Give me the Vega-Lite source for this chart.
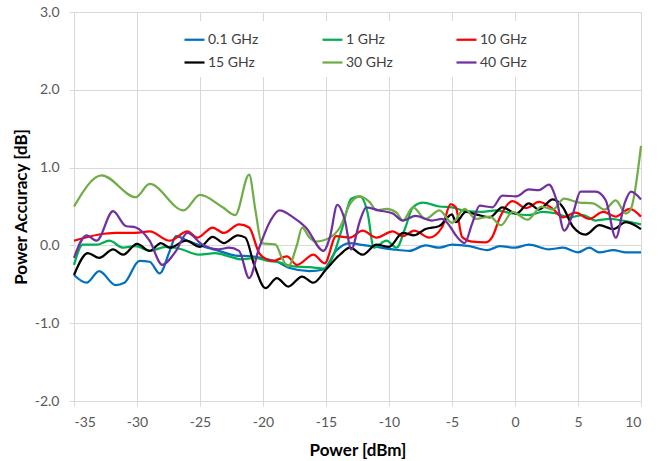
{
  "$schema": "https://vega.github.io/schema/vega-lite/v6.json",
  "width": 567,
  "height": 389,
  "autosize": {"type": "none"},
  "padding": {"left": 74, "top": 12, "right": 17, "bottom": 60},
  "background": "white",
  "config": {
    "view": {"stroke": null},
    "font": "Lato",
    "axis": {
      "gridColor": "#D9D9D9", "gridWidth": 1,
      "domainColor": "#D9D9D9", "tickColor": "#D9D9D9", "tickSize": 5,
      "labelFont": "Lato", "labelFontSize": 14, "labelColor": "#595959",
      "titleFont": "Lato", "titleFontSize": 17, "titleFontWeight": "bold", "titleColor": "#000000"
    },
    "legend": {
      "labelFont": "Lato", "labelFontSize": 14, "labelColor": "#404040"
    }
  },
  "data": {"values": [
    {"s":"0.1 GHz","x":-35,"y":-0.38},{"s":"0.1 GHz","x":-34,"y":-0.48},{"s":"0.1 GHz","x":-33,"y":-0.33},{"s":"0.1 GHz","x":-31.7,"y":-0.51},{"s":"0.1 GHz","x":-31,"y":-0.48},{"s":"0.1 GHz","x":-29.8,"y":-0.2},{"s":"0.1 GHz","x":-29,"y":-0.21},{"s":"0.1 GHz","x":-28.2,"y":-0.36},{"s":"0.1 GHz","x":-27.4,"y":-0.07},{"s":"0.1 GHz","x":-26.9,"y":0.12},{"s":"0.1 GHz","x":-26,"y":0.06},{"s":"0.1 GHz","x":-24.8,"y":-0.01},{"s":"0.1 GHz","x":-23.5,"y":-0.07},{"s":"0.1 GHz","x":-22.2,"y":-0.13},{"s":"0.1 GHz","x":-20.9,"y":-0.14},{"s":"0.1 GHz","x":-19.6,"y":-0.18},{"s":"0.1 GHz","x":-18.9,"y":-0.21},{"s":"0.1 GHz","x":-17.9,"y":-0.29},{"s":"0.1 GHz","x":-16.3,"y":-0.33},{"s":"0.1 GHz","x":-15.2,"y":-0.31},{"s":"0.1 GHz","x":-14.2,"y":-0.07},{"s":"0.1 GHz","x":-13.1,"y":0.03},{"s":"0.1 GHz","x":-12.3,"y":0.01},{"s":"0.1 GHz","x":-11,"y":-0.02},{"s":"0.1 GHz","x":-9.7,"y":-0.05},{"s":"0.1 GHz","x":-8.4,"y":-0.07},{"s":"0.1 GHz","x":-7.1,"y":0.0},{"s":"0.1 GHz","x":-6,"y":-0.03},{"s":"0.1 GHz","x":-5,"y":0.01},{"s":"0.1 GHz","x":-3.6,"y":-0.01},{"s":"0.1 GHz","x":-2.2,"y":-0.06},{"s":"0.1 GHz","x":-1.2,"y":-0.01},{"s":"0.1 GHz","x":0,"y":-0.03},{"s":"0.1 GHz","x":1.1,"y":0.01},{"s":"0.1 GHz","x":2.7,"y":-0.05},{"s":"0.1 GHz","x":3.8,"y":-0.03},{"s":"0.1 GHz","x":5,"y":-0.09},{"s":"0.1 GHz","x":5.9,"y":-0.03},{"s":"0.1 GHz","x":6.7,"y":-0.09},{"s":"0.1 GHz","x":7.8,"y":-0.06},{"s":"0.1 GHz","x":8.8,"y":-0.09},{"s":"0.1 GHz","x":10,"y":-0.09},

    {"s":"1 GHz","x":-35,"y":-0.25},{"s":"1 GHz","x":-34.3,"y":0.01},{"s":"1 GHz","x":-33.2,"y":0.01},{"s":"1 GHz","x":-32.2,"y":0.06},{"s":"1 GHz","x":-31.1,"y":-0.03},{"s":"1 GHz","x":-30.1,"y":-0.01},{"s":"1 GHz","x":-29,"y":-0.07},{"s":"1 GHz","x":-27.7,"y":-0.02},{"s":"1 GHz","x":-26.7,"y":-0.04},{"s":"1 GHz","x":-25,"y":-0.12},{"s":"1 GHz","x":-23.8,"y":-0.1},{"s":"1 GHz","x":-22.7,"y":-0.14},{"s":"1 GHz","x":-21.7,"y":-0.18},{"s":"1 GHz","x":-20.6,"y":-0.16},{"s":"1 GHz","x":-19.6,"y":-0.2},{"s":"1 GHz","x":-18.9,"y":-0.21},{"s":"1 GHz","x":-17.6,"y":-0.27},{"s":"1 GHz","x":-16.3,"y":-0.28},{"s":"1 GHz","x":-15.1,"y":-0.3},{"s":"1 GHz","x":-14.4,"y":-0.12},{"s":"1 GHz","x":-13.7,"y":0.23},{"s":"1 GHz","x":-13,"y":0.6},{"s":"1 GHz","x":-12.3,"y":0.63},{"s":"1 GHz","x":-11.7,"y":0.42},{"s":"1 GHz","x":-11.2,"y":-0.03},{"s":"1 GHz","x":-10.2,"y":0.06},{"s":"1 GHz","x":-9.4,"y":-0.03},{"s":"1 GHz","x":-8.7,"y":0.23},{"s":"1 GHz","x":-8.1,"y":0.49},{"s":"1 GHz","x":-7.3,"y":0.55},{"s":"1 GHz","x":-6,"y":0.5},{"s":"1 GHz","x":-5,"y":0.49},{"s":"1 GHz","x":-3.9,"y":0.44},{"s":"1 GHz","x":-2.6,"y":0.43},{"s":"1 GHz","x":-1.5,"y":0.45},{"s":"1 GHz","x":-0.2,"y":0.41},{"s":"1 GHz","x":1.1,"y":0.39},{"s":"1 GHz","x":2.2,"y":0.43},{"s":"1 GHz","x":3.3,"y":0.41},{"s":"1 GHz","x":4.3,"y":0.36},{"s":"1 GHz","x":5.4,"y":0.39},{"s":"1 GHz","x":6.4,"y":0.32},{"s":"1 GHz","x":7.5,"y":0.34},{"s":"1 GHz","x":8.5,"y":0.32},{"s":"1 GHz","x":10,"y":0.27},

    {"s":"10 GHz","x":-35,"y":0.06},{"s":"10 GHz","x":-33,"y":0.14},{"s":"10 GHz","x":-31.7,"y":0.16},{"s":"10 GHz","x":-30.1,"y":0.16},{"s":"10 GHz","x":-29,"y":0.18},{"s":"10 GHz","x":-27.4,"y":0.06},{"s":"10 GHz","x":-26,"y":0.18},{"s":"10 GHz","x":-25.2,"y":0.1},{"s":"10 GHz","x":-24,"y":0.23},{"s":"10 GHz","x":-23.1,"y":0.16},{"s":"10 GHz","x":-21.9,"y":0.27},{"s":"10 GHz","x":-21.1,"y":0.23},{"s":"10 GHz","x":-20.3,"y":-0.1},{"s":"10 GHz","x":-19.8,"y":-0.17},{"s":"10 GHz","x":-19.2,"y":-0.2},{"s":"10 GHz","x":-18.1,"y":-0.14},{"s":"10 GHz","x":-17.3,"y":-0.25},{"s":"10 GHz","x":-16,"y":-0.12},{"s":"10 GHz","x":-15.1,"y":-0.23},{"s":"10 GHz","x":-14.2,"y":0.12},{"s":"10 GHz","x":-13.1,"y":0.1},{"s":"10 GHz","x":-12.1,"y":0.19},{"s":"10 GHz","x":-11,"y":0.1},{"s":"10 GHz","x":-9.7,"y":0.18},{"s":"10 GHz","x":-8.9,"y":0.12},{"s":"10 GHz","x":-8,"y":0.19},{"s":"10 GHz","x":-6.8,"y":0.1},{"s":"10 GHz","x":-5.8,"y":0.23},{"s":"10 GHz","x":-5.1,"y":0.53},{"s":"10 GHz","x":-4.7,"y":0.49},{"s":"10 GHz","x":-4.2,"y":0.11},{"s":"10 GHz","x":-3.4,"y":0.05},{"s":"10 GHz","x":-2.3,"y":0.04},{"s":"10 GHz","x":-1.8,"y":0.11},{"s":"10 GHz","x":-1.2,"y":0.36},{"s":"10 GHz","x":-0.2,"y":0.57},{"s":"10 GHz","x":0.9,"y":0.48},{"s":"10 GHz","x":1.9,"y":0.56},{"s":"10 GHz","x":3,"y":0.47},{"s":"10 GHz","x":3.8,"y":0.36},{"s":"10 GHz","x":4.8,"y":0.42},{"s":"10 GHz","x":5.9,"y":0.34},{"s":"10 GHz","x":7,"y":0.43},{"s":"10 GHz","x":8,"y":0.37},{"s":"10 GHz","x":9.1,"y":0.47},{"s":"10 GHz","x":10,"y":0.37},

    {"s":"15 GHz","x":-35,"y":-0.38},{"s":"15 GHz","x":-33.9,"y":-0.1},{"s":"15 GHz","x":-33,"y":-0.16},{"s":"15 GHz","x":-31.9,"y":-0.05},{"s":"15 GHz","x":-31.1,"y":-0.12},{"s":"15 GHz","x":-30,"y":0.02},{"s":"15 GHz","x":-29,"y":-0.07},{"s":"15 GHz","x":-28.1,"y":0.03},{"s":"15 GHz","x":-27.4,"y":-0.03},{"s":"15 GHz","x":-26.1,"y":0.06},{"s":"15 GHz","x":-25,"y":-0.02},{"s":"15 GHz","x":-24,"y":0.11},{"s":"15 GHz","x":-23.1,"y":0.03},{"s":"15 GHz","x":-22,"y":0.13},{"s":"15 GHz","x":-21.4,"y":0.1},{"s":"15 GHz","x":-20.7,"y":-0.25},{"s":"15 GHz","x":-19.8,"y":-0.55},{"s":"15 GHz","x":-18.9,"y":-0.42},{"s":"15 GHz","x":-18,"y":-0.53},{"s":"15 GHz","x":-16.9,"y":-0.4},{"s":"15 GHz","x":-16,"y":-0.48},{"s":"15 GHz","x":-15,"y":-0.31},{"s":"15 GHz","x":-13.9,"y":-0.12},{"s":"15 GHz","x":-13.1,"y":-0.03},{"s":"15 GHz","x":-12.1,"y":-0.12},{"s":"15 GHz","x":-11,"y":0.01},{"s":"15 GHz","x":-10,"y":-0.02},{"s":"15 GHz","x":-8.9,"y":0.16},{"s":"15 GHz","x":-8,"y":0.13},{"s":"15 GHz","x":-7.1,"y":0.21},{"s":"15 GHz","x":-6,"y":0.25},{"s":"15 GHz","x":-5,"y":0.4},{"s":"15 GHz","x":-4.7,"y":0.3},{"s":"15 GHz","x":-3.9,"y":0.43},{"s":"15 GHz","x":-3.1,"y":0.4},{"s":"15 GHz","x":-2,"y":0.36},{"s":"15 GHz","x":-1,"y":0.49},{"s":"15 GHz","x":0.1,"y":0.41},{"s":"15 GHz","x":1.1,"y":0.54},{"s":"15 GHz","x":1.9,"y":0.46},{"s":"15 GHz","x":3,"y":0.59},{"s":"15 GHz","x":3.8,"y":0.49},{"s":"15 GHz","x":4.6,"y":0.24},{"s":"15 GHz","x":5.6,"y":0.14},{"s":"15 GHz","x":6.7,"y":0.26},{"s":"15 GHz","x":7.8,"y":0.21},{"s":"15 GHz","x":8.8,"y":0.3},{"s":"15 GHz","x":10,"y":0.21},

    {"s":"30 GHz","x":-35,"y":0.5},{"s":"30 GHz","x":-32.8,"y":0.9},{"s":"30 GHz","x":-30.1,"y":0.62},{"s":"30 GHz","x":-29,"y":0.79},{"s":"30 GHz","x":-26.3,"y":0.45},{"s":"30 GHz","x":-25,"y":0.65},{"s":"30 GHz","x":-23.2,"y":0.49},{"s":"30 GHz","x":-22.2,"y":0.39},{"s":"30 GHz","x":-21.1,"y":0.91},{"s":"30 GHz","x":-20.6,"y":0.45},{"s":"30 GHz","x":-20.1,"y":0.03},{"s":"30 GHz","x":-19,"y":0.01},{"s":"30 GHz","x":-18.5,"y":-0.16},{"s":"30 GHz","x":-18,"y":-0.27},{"s":"30 GHz","x":-17.3,"y":0.01},{"s":"30 GHz","x":-16.9,"y":0.23},{"s":"30 GHz","x":-16.3,"y":0.1},{"s":"30 GHz","x":-15.8,"y":0.05},{"s":"30 GHz","x":-14.7,"y":0.1},{"s":"30 GHz","x":-13.9,"y":0.23},{"s":"30 GHz","x":-13.1,"y":0.53},{"s":"30 GHz","x":-12.3,"y":0.63},{"s":"30 GHz","x":-11.5,"y":0.55},{"s":"30 GHz","x":-11,"y":0.45},{"s":"30 GHz","x":-10.2,"y":0.47},{"s":"30 GHz","x":-9.4,"y":0.42},{"s":"30 GHz","x":-8.9,"y":0.32},{"s":"30 GHz","x":-8.1,"y":0.49},{"s":"30 GHz","x":-7.1,"y":0.34},{"s":"30 GHz","x":-6,"y":0.45},{"s":"30 GHz","x":-5,"y":0.29},{"s":"30 GHz","x":-4,"y":0.47},{"s":"30 GHz","x":-3.1,"y":0.34},{"s":"30 GHz","x":-2,"y":0.37},{"s":"30 GHz","x":-1.1,"y":0.26},{"s":"30 GHz","x":-0.2,"y":0.43},{"s":"30 GHz","x":1,"y":0.33},{"s":"30 GHz","x":2.1,"y":0.5},{"s":"30 GHz","x":3,"y":0.46},{"s":"30 GHz","x":3.9,"y":0.6},{"s":"30 GHz","x":5.1,"y":0.55},{"s":"30 GHz","x":6.2,"y":0.54},{"s":"30 GHz","x":7.1,"y":0.46},{"s":"30 GHz","x":8,"y":0.58},{"s":"30 GHz","x":8.8,"y":0.41},{"s":"30 GHz","x":9.2,"y":0.47},{"s":"30 GHz","x":10,"y":1.28},

    {"s":"40 GHz","x":-35,"y":-0.16},{"s":"40 GHz","x":-34,"y":0.13},{"s":"40 GHz","x":-33.2,"y":0.06},{"s":"40 GHz","x":-31.9,"y":0.44},{"s":"40 GHz","x":-30.9,"y":0.25},{"s":"40 GHz","x":-30.1,"y":0.23},{"s":"40 GHz","x":-29,"y":0.06},{"s":"40 GHz","x":-28,"y":-0.25},{"s":"40 GHz","x":-26.9,"y":-0.07},{"s":"40 GHz","x":-26,"y":0.16},{"s":"40 GHz","x":-24.8,"y":0.01},{"s":"40 GHz","x":-23.5,"y":-0.05},{"s":"40 GHz","x":-22.7,"y":-0.03},{"s":"40 GHz","x":-21.9,"y":-0.07},{"s":"40 GHz","x":-21.1,"y":-0.42},{"s":"40 GHz","x":-20.3,"y":-0.03},{"s":"40 GHz","x":-19.4,"y":0.32},{"s":"40 GHz","x":-18.7,"y":0.45},{"s":"40 GHz","x":-17.6,"y":0.36},{"s":"40 GHz","x":-16.6,"y":0.23},{"s":"40 GHz","x":-15.2,"y":-0.07},{"s":"40 GHz","x":-14.7,"y":0.1},{"s":"40 GHz","x":-14.1,"y":0.52},{"s":"40 GHz","x":-13.5,"y":0.32},{"s":"40 GHz","x":-13,"y":-0.05},{"s":"40 GHz","x":-12.3,"y":0.32},{"s":"40 GHz","x":-11.8,"y":0.49},{"s":"40 GHz","x":-10.8,"y":0.45},{"s":"40 GHz","x":-9.7,"y":0.41},{"s":"40 GHz","x":-8.9,"y":0.32},{"s":"40 GHz","x":-7.9,"y":0.38},{"s":"40 GHz","x":-6.6,"y":0.32},{"s":"40 GHz","x":-5.8,"y":0.34},{"s":"40 GHz","x":-5.1,"y":0.23},{"s":"40 GHz","x":-4.7,"y":0.13},{"s":"40 GHz","x":-4,"y":0.03},{"s":"40 GHz","x":-3.4,"y":0.28},{"s":"40 GHz","x":-2.8,"y":0.51},{"s":"40 GHz","x":-1.8,"y":0.49},{"s":"40 GHz","x":-1,"y":0.64},{"s":"40 GHz","x":0.1,"y":0.63},{"s":"40 GHz","x":1.1,"y":0.72},{"s":"40 GHz","x":1.9,"y":0.71},{"s":"40 GHz","x":2.7,"y":0.78},{"s":"40 GHz","x":3.3,"y":0.58},{"s":"40 GHz","x":3.9,"y":0.19},{"s":"40 GHz","x":4.6,"y":0.41},{"s":"40 GHz","x":5.2,"y":0.69},{"s":"40 GHz","x":6.4,"y":0.69},{"s":"40 GHz","x":7.2,"y":0.58},{"s":"40 GHz","x":8,"y":0.1},{"s":"40 GHz","x":8.7,"y":0.54},{"s":"40 GHz","x":9.2,"y":0.69},{"s":"40 GHz","x":10,"y":0.59}
  ]},
  "mark": {"type": "line", "interpolate": "monotone", "strokeWidth": 2.25},
  "encoding": {
    "x": {
      "field": "x", "type": "quantitative",
      "scale": {"domain": [-35, 10], "nice": false, "zero": false},
      "axis": {
        "title": "Power [dBm]",
        "values": [-35, -30, -25, -20, -15, -10, -5, 0, 5, 10],
        "labelExpr": "replace(format(datum.value, 'd'), '\u2212', '-')",
        "labelPadding": 9, "titlePadding": 13
      }
    },
    "y": {
      "field": "y", "type": "quantitative",
      "scale": {"domain": [-2, 3], "nice": false, "zero": false},
      "axis": {
        "title": "Power Accuracy [dB]",
        "values": [-2, -1, 0, 1, 2, 3],
        "labelExpr": "replace(format(datum.value, '.1f'), '\u2212', '-')",
        "labelPadding": 10, "titlePadding": 4
      }
    },
    "color": {
      "field": "s", "type": "nominal",
      "scale": {
        "domain": ["0.1 GHz", "1 GHz", "10 GHz", "15 GHz", "30 GHz", "40 GHz"],
        "range": ["#0070C0", "#00B050", "#FF0000", "#000000", "#70AD47", "#7030A0"]
      },
      "legend": {
        "title": null,
        "orient": "none",
        "legendX": 102,
        "legendY": 9,
        "direction": "horizontal",
        "columns": 3,
        "symbolType": "stroke",
        "symbolSize": 400,
        "symbolStrokeWidth": 2.25,
        "labelOffset": 2,
        "columnPadding": 59,
        "rowPadding": 4,
        "padding": 7,
        "fillColor": "white"
      }
    }
  }
}
